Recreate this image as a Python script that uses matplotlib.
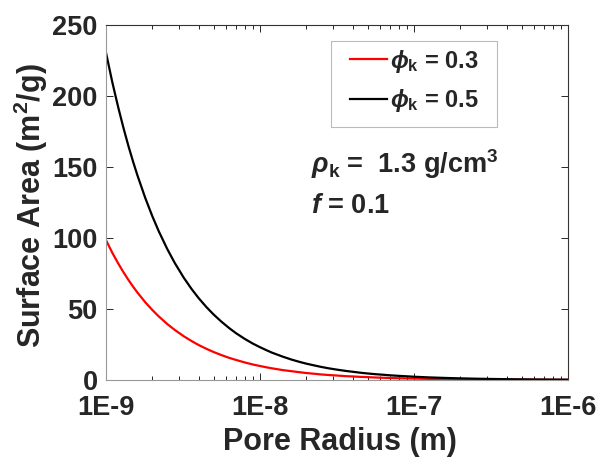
import matplotlib
matplotlib.use("Agg")
import matplotlib.pyplot as plt
import numpy as np
from matplotlib.patches import Rectangle
from matplotlib.ticker import LogLocator, FixedLocator, NullFormatter

plt.rcParams['font.family'] = ['Liberation Sans', 'DejaVu Sans']
plt.rcParams['mathtext.fontset'] = 'custom'
plt.rcParams['mathtext.rm'] = 'Liberation Sans:bold'
plt.rcParams['mathtext.bf'] = 'Liberation Sans:bold'
plt.rcParams['mathtext.it'] = 'Liberation Sans:italic:bold'

# Pore radius (nm) and surface area values (m^2/g)
radius_nm = [1, 1.1, 1.2, 1.3, 1.4, 1.5, 1.6, 1.8, 2, 2.2, 2.5, 2.8, 3.2, 3.6, 4, 4.5,
             5, 5.6, 6.3, 7, 8, 9, 10, 11, 12, 14, 16, 18, 20, 22, 25, 28, 32, 36,
             40, 45, 50, 56, 63, 70, 80, 90, 100, 125, 160, 200, 250, 320, 400, 500,
             630, 800, 1000]
area_phi03 = [98.5, 89.5, 82.1, 75.8, 70.4, 65.7, 61.6, 54.7, 49.3, 44.8, 39.4, 35.2,
              30.8, 27.4, 24.6, 21.9, 19.7, 17.6, 15.6, 14.1, 12.3, 10.9, 9.85, 8.95,
              8.2, 7.0, 6.2, 5.5, 4.9, 4.5, 3.9, 3.5, 3.1, 2.7, 2.5, 2.2, 2.0, 1.76,
              1.56, 1.4, 1.23, 1.1, 0.99, 0.79, 0.62, 0.49, 0.39, 0.31, 0.25, 0.2,
              0.16, 0.12, 0.1]
area_phi05 = [230.5, 209.5, 192.1, 177.3, 164.6, 153.7, 144.1, 128.1, 115.3, 104.8,
              92.2, 82.3, 72.0, 64.0, 57.6, 51.2, 46.1, 41.2, 36.6, 32.9, 28.8, 25.6,
              23.1, 21.0, 19.2, 16.5, 14.4, 12.8, 11.5, 10.5, 9.2, 8.2, 7.2, 6.4, 5.8,
              5.1, 4.6, 4.1, 3.7, 3.3, 2.9, 2.6, 2.3, 1.84, 1.44, 1.15, 0.92, 0.72,
              0.58, 0.46, 0.37, 0.29, 0.23]
xtick_vals = [1e-9, 1e-8, 1e-7, 1e-6]
xtick_labels = ['1E-9', '1E-8', '1E-7', '1E-6']
ytick_vals = [0, 50, 100, 150, 200, 250]

radius_m = np.array(radius_nm) * 1e-9

W, H = 599, 458
fig = plt.figure(figsize=(W / 100, H / 100), dpi=100)
ax = fig.add_axes([106 / W, 1 - 380 / H, (568 - 106) / W, (380 - 25) / H])

ax.plot(radius_m, area_phi03, color='#ff0000', lw=1.6, label=r'$\phi_{\mathbf{k}}$ = 0.3')
ax.plot(radius_m, area_phi05, color='black', lw=1.6, label=r'$\phi_{\mathbf{k}}$ = 0.5')

ax.set_xscale('log')
ax.set_xlim(1e-9, 1e-6)
ax.set_ylim(0, 250)
ax.xaxis.set_major_locator(FixedLocator(xtick_vals))
ax.set_xticklabels(xtick_labels)
ax.xaxis.set_minor_locator(LogLocator(base=10, subs=range(2, 10)))
ax.xaxis.set_minor_formatter(NullFormatter())
ax.set_yticks(ytick_vals)

tc = '#262626'
ax.tick_params(axis='both', which='major', direction='in', length=5, width=0.7,
               top=True, right=True, labelsize=19.5, colors=tc, pad=6)
ax.tick_params(axis='x', which='minor', direction='in', length=3, width=0.6, top=True)
ax.tick_params(axis='x', which='major', pad=11)
for lab in ax.get_xticklabels() + ax.get_yticklabels():
    lab.set_fontweight('bold')
for side in ['left', 'bottom']:
    ax.spines[side].set_color('#999999')
for side in ['top', 'right']:
    ax.spines[side].set_color('#333333')
for s in ax.spines.values():
    s.set_linewidth(0.8)

ax.set_xlabel('Pore Radius (m)', fontsize=22, fontweight='bold', color=tc)
ax.set_ylabel(r'Surface Area (m$^{\mathbf{2}}$/g)', fontsize=22, fontweight='bold',
              color=tc)
ax.xaxis.set_label_coords((340 - 106) / 462, (380 - 427) / 355)
ax.yaxis.set_label_coords((50 - 106) / 462, 0.49)

# legend frame drawn as a rectangle, entries placed inside it
ax.add_patch(Rectangle((331 / W, 1 - 127 / H), (497 - 331) / W, (127 - 41) / H,
                       transform=fig.transFigure, facecolor='white',
                       edgecolor='#bbbbbb', lw=0.8, zorder=4, clip_on=False))
leg = ax.legend(loc='center left', bbox_to_anchor=(350 / W, 1 - 81 / H),
                bbox_transform=fig.transFigure, borderaxespad=0, borderpad=0,
                prop={'weight': 'bold', 'size': 17}, handlelength=1.55,
                handletextpad=0.15, frameon=False, labelspacing=0.55)
leg.set_zorder(6)
for t in leg.get_texts():
    t.set_color(tc)

fig.text(311 / W, 1 - 164 / H, r'$\rho_{\mathbf{k}}$ =  1.3 g/cm$^{\mathbf{3}}$',
         fontsize=19.5, fontweight='bold', color=tc, va='center', ha='left')
fig.text(311 / W, 1 - 206 / H, r'$f$ = 0.1', fontsize=19.5, fontweight='bold',
         color=tc, va='center', ha='left')

fig.savefig('out.png', dpi=100)
